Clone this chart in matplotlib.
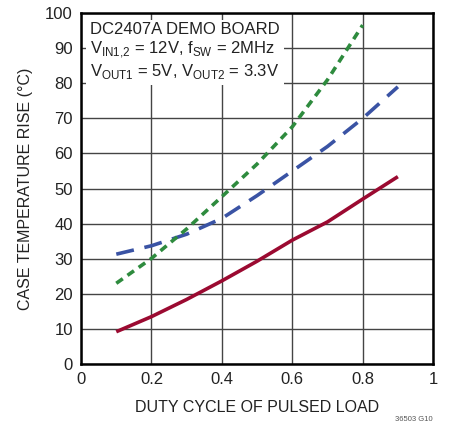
import numpy as np
import matplotlib.pyplot as plt

# duty cycle of the pulsed load
duty = [0.1, 0.2, 0.3, 0.4, 0.5, 0.6, 0.7, 0.8, 0.9]
duty_g = [0.1, 0.2, 0.3, 0.4, 0.5, 0.6, 0.7, 0.8]

# case temperature rise (degC)
rise_red = [9.2, 13.5, 18.4, 23.7, 29.3, 35.3, 40.5, 47.0, 53.4]
rise_blue = [31.3, 33.7, 37.0, 41.5, 48.0, 55.0, 62.0, 70.0, 79.0]
rise_green = [23.0, 30.1, 38.5, 47.7, 57.0, 67.6, 81.0, 96.6]

plt.rcParams['font.family'] = ['Liberation Sans', 'DejaVu Sans']
plt.rcParams['mathtext.fontset'] = 'custom'
plt.rcParams['mathtext.rm'] = 'Liberation Sans'

fig = plt.figure(figsize=(4.53, 4.24), dpi=100)
ax = fig.add_axes([0.179, 0.1415, 0.777, 0.8275])

ax.plot(duty, rise_red, color='#9b0a31', lw=2.6, solid_capstyle='butt')
ax.plot(duty, rise_blue, color='#3a53a4', lw=2.6, dashes=(5, 3))
ax.plot(duty_g, rise_green, color='#2e8b3e', lw=2.6, dashes=(2.2, 1.6))

ax.set_xlim(0, 1)
ax.set_ylim(0, 100)
ax.set_xticks([0, 0.2, 0.4, 0.6, 0.8, 1])
ax.set_xticklabels(['0', '0.2', '0.4', '0.6', '0.8', '1'])
ax.set_yticks(np.arange(0, 101, 10))
ax.grid(True, color='#444444', lw=1.0)
ax.set_axisbelow(True)
ax.tick_params(length=0, labelsize=12, colors='#222222', pad=6)
for s in ax.spines.values():
    s.set_linewidth(1.8)
    s.set_color('black')

ax.set_xlabel('DUTY CYCLE OF PULSED LOAD', fontsize=11.5, color='#222222', labelpad=9)
ax.set_ylabel('CASE TEMPERATURE RISE (°C)', fontsize=11.5, color='#222222', labelpad=9)

ax.text(0.025, 0.975,
        'DC2407A DEMO BOARD\n'
        r'V$_{\mathrm{IN1{,}2}}$ = 12V, f$_{\mathrm{SW}}$ = 2MHz' '\n'
        r'V$_{\mathrm{OUT1}}$ = 5V, V$_{\mathrm{OUT2}}$ = 3.3V',
        transform=ax.transAxes, ha='left', va='top', fontsize=12,
        color='#222222', linespacing=1.15,
        bbox=dict(facecolor='white', edgecolor='none', pad=3))

fig.text(0.955, 0.003, '36503 G10', ha='right', va='bottom', fontsize=5.5, color='#555555')

fig.savefig('out.png', dpi=100)
